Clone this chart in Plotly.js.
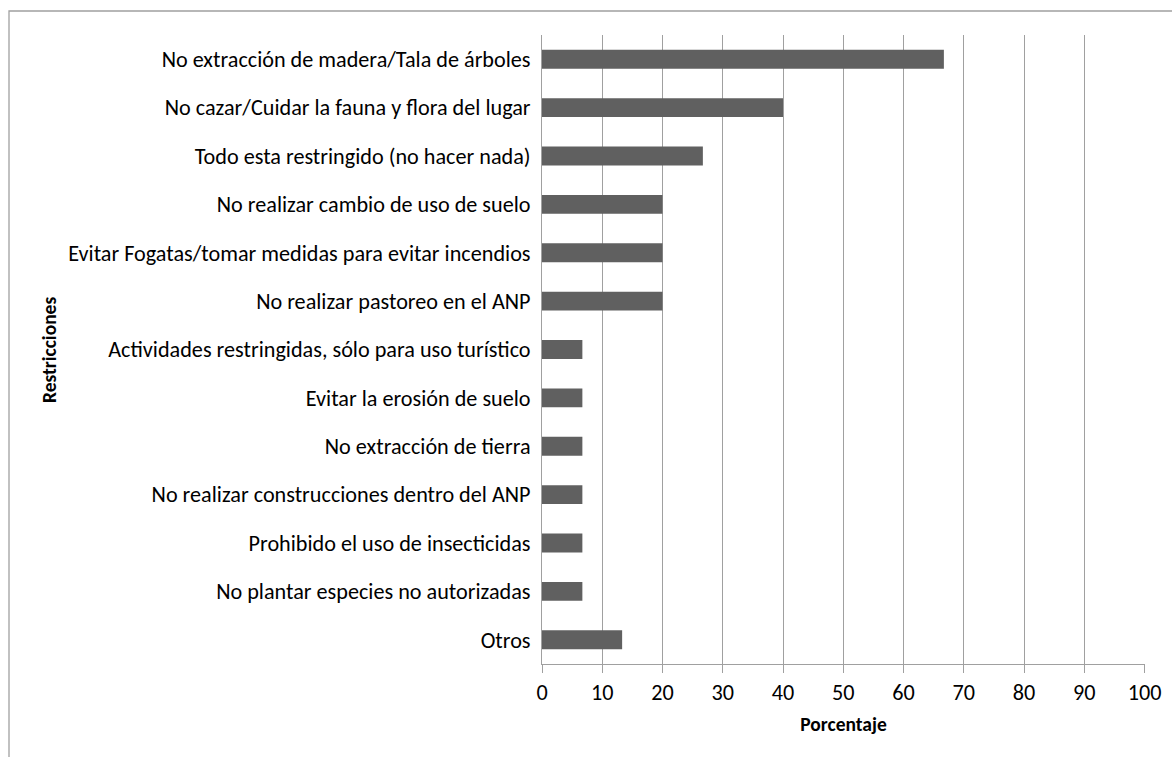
<!DOCTYPE html>
<html><head><meta charset="utf-8">
<script src="https://cdn.plot.ly/plotly-3.0.1.min.js"></script>
<style>html,body{margin:0;padding:0;background:#fff}#chart{width:1172px;height:757px}</style>
</head><body><div id="chart"></div>
<script>
const categories = [
  "No extracción de madera/Tala de árboles",
  "No cazar/Cuidar la fauna y flora del lugar",
  "Todo esta restringido (no hacer nada)",
  "No realizar cambio de uso de suelo",
  "Evitar Fogatas/tomar medidas para evitar incendios",
  "No realizar pastoreo en el ANP",
  "Actividades restringidas, sólo para uso turístico",
  "Evitar la erosión de suelo",
  "No extracción de tierra",
  "No realizar construcciones dentro del ANP",
  "Prohibido el uso de insecticidas",
  "No plantar especies no autorizadas",
  "Otros"
];
const values = [66.7, 40, 26.7, 20, 20, 20, 6.7, 6.7, 6.7, 6.7, 6.7, 6.7, 13.3];
const xTicks = [0,10,20,30,40,50,60,70,80,90,100];

const font = "Carlito, Calibri, 'Open Sans', sans-serif";
Plotly.newPlot('chart', [{
  type: 'bar', orientation: 'h',
  x: values, y: categories,
  marker: {color: '#606060'},
  hoverinfo: 'x+y'
}], {
  width: 1172, height: 757,
  margin: {l: 542, r: 27, t: 35, b: 93},
  paper_bgcolor: '#fff', plot_bgcolor: '#fff',
  bargap: 0.61,
  font: {family: font, size: 22, color: '#000'},
  xaxis: {
    range: [0, 100.08], tickvals: xTicks, ticktext: xTicks.map(String),
    showgrid: true, gridcolor: '#a0a0a0', gridwidth: 1,
    showline: true, linecolor: '#a0a0a0', linewidth: 1,
    ticks: 'outside', ticklen: 8, tickcolor: '#a0a0a0',
    zeroline: false, tickfont: {size: 22.2},
    title: {text: '<b>Porcentaje</b>', font: {size: 19.5}, standoff: 12}
  },
  yaxis: {
    autorange: 'reversed', type: 'category',
    showline: true, linecolor: '#a0a0a0', linewidth: 1,
    showgrid: false, ticks: '', ticklabelstandoff: 6,
    tickfont: {size: 22.2}
  },
  annotations: [{
    text: '<b>Restricciones</b>', xref: 'paper', yref: 'paper',
    x: (49 - 542) / 603, y: (664 - 350) / 629, xanchor: 'center', yanchor: 'middle',
    textangle: -90, showarrow: false, font: {size: 19.5}
  }],
  shapes: [{
    type: 'rect', xref: 'paper', yref: 'paper',
    x0: -533/603, x1: 1.2, y0: -0.3, y1: 1 + 24/629,
    line: {color: '#a0a0a0', width: 1.3}, fillcolor: 'rgba(0,0,0,0)'
  }],
  showlegend: false
}, {displayModeBar: false});
</script></body></html>
